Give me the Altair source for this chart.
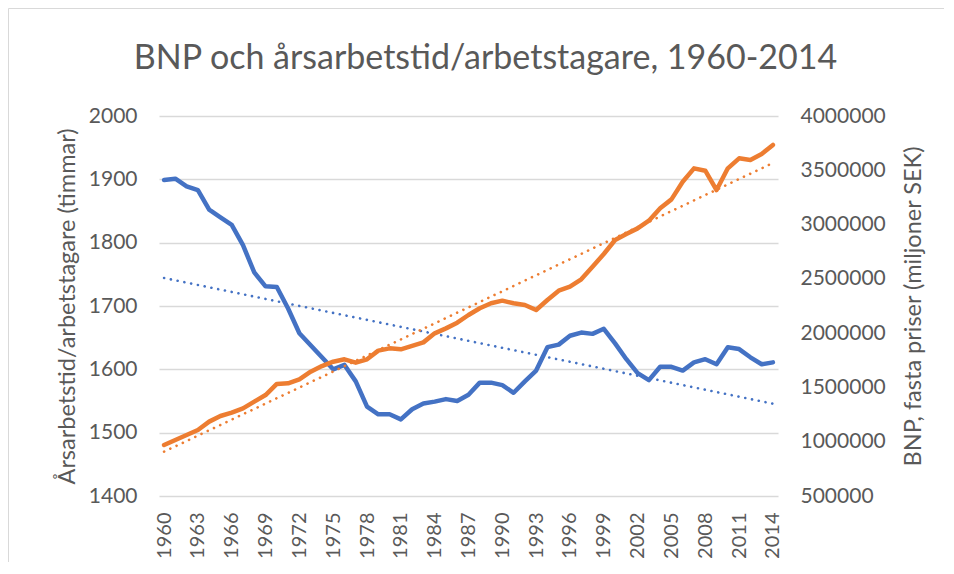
import altair as alt
import pandas as pd

years = list(range(1960, 2015))

hours = [1899, 1901, 1889, 1883, 1852, 1840, 1828, 1796, 1753, 1731,
         1730, 1696, 1657, 1638, 1619, 1600, 1607, 1581, 1541, 1529,
         1529, 1521, 1537, 1546, 1549, 1553, 1550, 1560, 1579, 1579,
         1575, 1563, 1581, 1598, 1635, 1639, 1653, 1658, 1656, 1664,
         1641, 1616, 1594, 1583, 1604, 1604, 1598, 1611, 1616, 1608,
         1635, 1632, 1619, 1608, 1611]

gdp = [970000, 1016000, 1062000, 1108000, 1185000, 1237000, 1268000, 1307000, 1369000, 1430000,
       1532000, 1538000, 1575000, 1645000, 1697000, 1737000, 1759000, 1728000, 1759000, 1839000,
       1860000, 1851000, 1882000, 1915000, 1998000, 2044000, 2096000, 2167000, 2229000, 2275000,
       2299000, 2275000, 2259000, 2213000, 2305000, 2391000, 2428000, 2496000, 2612000, 2729000,
       2858000, 2913000, 2965000, 3036000, 3150000, 3232000, 3395000, 3518000, 3496000, 3318000,
       3518000, 3610000, 3595000, 3650000, 3733000]

x_ticks = list(range(1960, 2015, 3))
left_ticks = [1400, 1500, 1600, 1700, 1800, 1900, 2000]
right_ticks = [500000, 1000000, 1500000, 2000000, 2500000, 3000000, 3500000, 4000000]

title_text = "BNP och årsarbetstid/arbetstagare, 1960-2014"
left_title = "Årsarbetstid/arbetstagare (timmar)"
right_title = "BNP, fasta priser  (miljoner SEK)"

BLUE = "#4472C4"
ORANGE = "#ED7D31"
TXT = "#595959"
FONT = "Lato"
W, H = 619, 380
PAD = {"left": 151, "top": 108, "right": 166, "bottom": 66}

df = pd.DataFrame({"year": years, "hours": hours, "gdp": gdp})

xenc = alt.X("year:Q",
             scale=alt.Scale(domain=[1959.55, 2014.45], nice=False, zero=False),
             axis=alt.Axis(values=x_ticks, format="d", labelAngle=270, labelAlign="right",
                           labelBaseline="middle", labelPadding=16, ticks=False, domain=False,
                           grid=False, title=None, labelColor=TXT, labelFontSize=20,
                           labelFont=FONT, labelOverlap=False))

base = alt.Chart(df)

yleft = alt.Y("hours:Q",
              scale=alt.Scale(domain=[1400, 2000], nice=False, zero=False),
              axis=alt.Axis(orient="left", values=left_ticks, grid=True, gridColor="#d9d9d9",
                            gridWidth=1.5, ticks=False, domain=False, labelPadding=22, format="d",
                            labelColor=TXT, labelFontSize=21, labelFont=FONT,
                            title=left_title, titleColor=TXT, titleFont=FONT,
                            titleFontSize=23.5, titleFontWeight="normal", titlePadding=9))

blue_line = base.mark_line(color=BLUE, strokeWidth=4.5, strokeJoin="round", strokeCap="round").encode(
    x=xenc, y=yleft)
blue_trend = base.transform_regression("year", "hours").mark_line(
    color=BLUE, strokeWidth=2.6, strokeDash=[0.1, 6.8], strokeCap="round").encode(x=xenc, y=yleft)

yright = alt.Y("gdp:Q",
               scale=alt.Scale(domain=[500000, 4000000], nice=False, zero=False),
               axis=alt.Axis(orient="right", values=right_ticks, grid=False, ticks=False,
                             domain=False, labelPadding=22, format="d",
                             labelColor=TXT, labelFontSize=21, labelFont=FONT,
                             title=right_title, titleColor=TXT, titleFont=FONT, titleAngle=270,
                             titleBaseline="top",
                             titleFontSize=23.5, titleFontWeight="normal", titlePadding=16))

orange_line = base.mark_line(color=ORANGE, strokeWidth=4.5, strokeJoin="round", strokeCap="round").encode(
    x=xenc, y=yright)
orange_trend = base.transform_regression("year", "gdp").mark_line(
    color=ORANGE, strokeWidth=2.6, strokeDash=[0.1, 6.8], strokeCap="round").encode(x=xenc, y=yright)

frame_df = pd.DataFrame({"f": [0]})
frame_left = alt.Chart(frame_df).mark_rule(color="#d9d9d9", strokeWidth=1).encode(
    x=alt.value(-PAD["left"] + 0.5), y=alt.value(-PAD["top"] + 0.5), y2=alt.value(H + PAD["bottom"]))
frame_top = alt.Chart(frame_df).mark_rule(color="#d9d9d9", strokeWidth=1).encode(
    x=alt.value(-PAD["left"] + 0.5), x2=alt.value(W + PAD["right"]), y=alt.value(-PAD["top"] + 0.5))

left = alt.layer(frame_left, frame_top, blue_line, blue_trend)
right = alt.layer(orange_line, orange_trend)

chart = alt.layer(left, right).resolve_scale(y="independent").properties(
    width=W, height=H,
    autosize=alt.AutoSizeParams(type="none"),
    padding=PAD,
    title=alt.Title(title_text, fontSize=34, font=FONT, color=TXT, fontWeight="normal",
                    anchor="middle", frame="group", dx=17, baseline="alphabetic", offset=-95),
).configure_view(stroke=None)

chart.save("out.html", embed_options={"renderer": "svg", "actions": False})
